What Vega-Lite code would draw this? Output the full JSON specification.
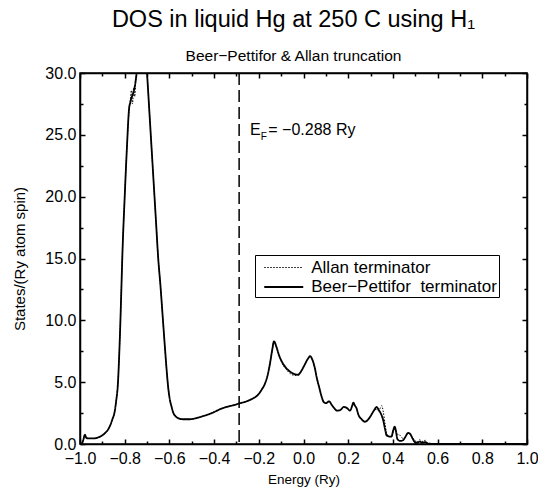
{
  "$schema": "https://vega.github.io/schema/vega-lite/v6.json",
  "width": 447,
  "height": 371,
  "autosize": "none",
  "padding": {"left": 80, "top": 73, "right": 11, "bottom": 43},
  "background": "white",
  "title": {
    "text": "DOS in liquid Hg at 250 C using H₁",
    "subtitle": "Beer−Pettifor & Allan truncation",
    "font": "Liberation Sans",
    "subtitleFont": "Liberation Sans",
    "fontSize": 23.5,
    "subtitleFontSize": 15.5,
    "fontWeight": "normal",
    "color": "black",
    "subtitleColor": "black",
    "anchor": "middle",
    "dx": -10,
    "offset": 1,
    "subtitlePadding": 17
  },
  "config": {
    "view": {"stroke": "black", "strokeWidth": 1.5},
    "axis": {
      "grid": false,
      "domainColor": "black",
      "domainWidth": 1.5,
      "tickColor": "black",
      "tickWidth": 1.5,
      "labelFont": "Liberation Sans",
      "labelFontSize": 16,
      "labelColor": "black",
      "labelOverlap": false,
      "labelFlush": false,
      "titleFont": "Liberation Sans",
      "titleFontSize": 14,
      "titleFontWeight": "normal",
      "titleColor": "black"
    },
    "legend": {
      "labelFont": "Liberation Sans",
      "labelFontSize": 17,
      "labelColor": "black",
      "labelLimit": 0
    }
  },
  "data": {
    "values": [
      {"e": -1.0, "a": 0, "b": 0},
      {"e": -0.99, "a": 0.1, "b": 0.1},
      {"e": -0.985, "a": 0.35, "b": 0.35},
      {"e": -0.978, "a": 0.75, "b": 0.75},
      {"e": -0.972, "a": 0.5, "b": 0.5},
      {"e": -0.96, "a": 0.45, "b": 0.45},
      {"e": -0.94, "a": 0.45, "b": 0.45},
      {"e": -0.925, "a": 0.5, "b": 0.5},
      {"e": -0.91, "a": 0.6, "b": 0.6},
      {"e": -0.89, "a": 0.85, "b": 0.85},
      {"e": -0.875, "a": 1.15, "b": 1.15},
      {"e": -0.865, "a": 1.5, "b": 1.5},
      {"e": -0.855, "a": 2.0, "b": 2.0},
      {"e": -0.845, "a": 2.6, "b": 2.6},
      {"e": -0.838, "a": 3.5, "b": 3.5},
      {"e": -0.83, "a": 5.0, "b": 5.0},
      {"e": -0.825, "a": 7.0, "b": 7.0},
      {"e": -0.82, "a": 9.5, "b": 9.5},
      {"e": -0.815, "a": 12.5, "b": 12.5},
      {"e": -0.81, "a": 15.5, "b": 15.5},
      {"e": -0.8, "a": 20.0, "b": 20.0},
      {"e": -0.79, "a": 24.0, "b": 24.0},
      {"e": -0.78, "a": 27.0, "b": 27.2},
      {"e": -0.775, "a": 27.8, "b": 27.6},
      {"e": -0.77, "a": 28.6, "b": 28.0},
      {"e": -0.765, "a": 27.5, "b": 28.2},
      {"e": -0.76, "a": 28.8, "b": 28.5},
      {"e": -0.755, "a": 28.1, "b": 28.9},
      {"e": -0.75, "a": 29.5, "b": 29.5},
      {"e": -0.745, "a": 30.3, "b": 30.3},
      {"e": -0.735, "a": 33, "b": 33},
      {"e": -0.72, "a": 34, "b": 34},
      {"e": -0.705, "a": 31.5, "b": 31.5},
      {"e": -0.7, "a": 30, "b": 30},
      {"e": -0.69, "a": 27, "b": 27},
      {"e": -0.68, "a": 24, "b": 24},
      {"e": -0.67, "a": 21, "b": 21},
      {"e": -0.66, "a": 18, "b": 18},
      {"e": -0.65, "a": 15, "b": 15},
      {"e": -0.64, "a": 12.8, "b": 12.8},
      {"e": -0.63, "a": 10.3, "b": 10.3},
      {"e": -0.62, "a": 7.8, "b": 7.8},
      {"e": -0.612, "a": 5.9, "b": 5.9},
      {"e": -0.605, "a": 4.5, "b": 4.5},
      {"e": -0.597, "a": 3.5, "b": 3.5},
      {"e": -0.59, "a": 3.0, "b": 3.0},
      {"e": -0.583, "a": 2.55, "b": 2.55},
      {"e": -0.57, "a": 2.2, "b": 2.2},
      {"e": -0.555, "a": 2.05, "b": 2.05},
      {"e": -0.538, "a": 2.0, "b": 2.0},
      {"e": -0.51, "a": 2.0, "b": 2.0},
      {"e": -0.478, "a": 2.1, "b": 2.1},
      {"e": -0.45, "a": 2.25, "b": 2.25},
      {"e": -0.425, "a": 2.4, "b": 2.4},
      {"e": -0.404, "a": 2.55, "b": 2.55},
      {"e": -0.375, "a": 2.8, "b": 2.8},
      {"e": -0.344, "a": 3.0, "b": 3.0},
      {"e": -0.31, "a": 3.15, "b": 3.15},
      {"e": -0.284, "a": 3.3, "b": 3.3},
      {"e": -0.255, "a": 3.45, "b": 3.45},
      {"e": -0.225, "a": 3.7, "b": 3.7},
      {"e": -0.205, "a": 3.95, "b": 3.95},
      {"e": -0.187, "a": 4.4, "b": 4.4},
      {"e": -0.172, "a": 4.9, "b": 4.9},
      {"e": -0.16, "a": 5.6, "b": 5.6},
      {"e": -0.15, "a": 6.5, "b": 6.5},
      {"e": -0.14, "a": 7.6, "b": 7.6},
      {"e": -0.132, "a": 8.3, "b": 8.3},
      {"e": -0.122, "a": 7.9, "b": 7.9},
      {"e": -0.11, "a": 7.2, "b": 7.2},
      {"e": -0.095, "a": 6.5, "b": 6.6},
      {"e": -0.08, "a": 6.1, "b": 6.2},
      {"e": -0.06, "a": 5.7, "b": 5.85},
      {"e": -0.04, "a": 5.55, "b": 5.65},
      {"e": -0.025, "a": 5.55, "b": 5.6},
      {"e": -0.01, "a": 5.9, "b": 5.9},
      {"e": 0.005, "a": 6.4, "b": 6.4},
      {"e": 0.02, "a": 6.9, "b": 6.9},
      {"e": 0.03, "a": 7.1, "b": 7.1},
      {"e": 0.04, "a": 6.8, "b": 6.8},
      {"e": 0.05, "a": 6.2, "b": 6.2},
      {"e": 0.06, "a": 5.3, "b": 5.3},
      {"e": 0.07, "a": 4.6, "b": 4.6},
      {"e": 0.08, "a": 3.9, "b": 3.9},
      {"e": 0.09, "a": 3.4, "b": 3.4},
      {"e": 0.1, "a": 3.3, "b": 3.3},
      {"e": 0.115, "a": 3.45, "b": 3.45},
      {"e": 0.125, "a": 3.2, "b": 3.2},
      {"e": 0.135, "a": 2.95, "b": 2.95},
      {"e": 0.15, "a": 2.7, "b": 2.7},
      {"e": 0.165, "a": 2.75, "b": 2.75},
      {"e": 0.18, "a": 3.0, "b": 3.0},
      {"e": 0.195, "a": 2.9, "b": 2.9},
      {"e": 0.208, "a": 2.7, "b": 2.7},
      {"e": 0.218, "a": 3.1, "b": 3.1},
      {"e": 0.223, "a": 3.35, "b": 3.35},
      {"e": 0.23, "a": 3.1, "b": 3.1},
      {"e": 0.237, "a": 2.9, "b": 2.9},
      {"e": 0.245, "a": 2.4, "b": 2.4},
      {"e": 0.26, "a": 2.0, "b": 2.0},
      {"e": 0.275, "a": 1.8, "b": 1.8},
      {"e": 0.29, "a": 2.0, "b": 2.0},
      {"e": 0.305, "a": 2.4, "b": 2.4},
      {"e": 0.318, "a": 2.75, "b": 2.8},
      {"e": 0.327, "a": 2.8, "b": 3.0},
      {"e": 0.335, "a": 2.7, "b": 2.8},
      {"e": 0.342, "a": 2.85, "b": 2.6},
      {"e": 0.35, "a": 3.1, "b": 2.3},
      {"e": 0.357, "a": 2.6, "b": 1.9},
      {"e": 0.365, "a": 1.6, "b": 1.2},
      {"e": 0.372, "a": 0.9, "b": 0.7},
      {"e": 0.385, "a": 0.6, "b": 0.6},
      {"e": 0.394, "a": 0.6, "b": 0.6},
      {"e": 0.4, "a": 0.9, "b": 1.0},
      {"e": 0.408, "a": 1.3, "b": 1.4},
      {"e": 0.414, "a": 1.1, "b": 1.0},
      {"e": 0.42, "a": 0.8, "b": 0.4},
      {"e": 0.432, "a": 0.7, "b": 0.25},
      {"e": 0.445, "a": 0.45, "b": 0.3},
      {"e": 0.455, "a": 0.55, "b": 0.55},
      {"e": 0.468, "a": 0.85, "b": 0.9},
      {"e": 0.478, "a": 0.75, "b": 0.8},
      {"e": 0.488, "a": 0.5, "b": 0.45},
      {"e": 0.498, "a": 0.3, "b": 0.15},
      {"e": 0.51, "a": 0.2, "b": 0.1},
      {"e": 0.52, "a": 0.35, "b": 0.2},
      {"e": 0.53, "a": 0.2, "b": 0.1},
      {"e": 0.545, "a": 0.3, "b": 0.15},
      {"e": 0.555, "a": 0.1, "b": 0.03},
      {"e": 0.57, "a": 0.05, "b": 0.0},
      {"e": 0.6, "a": 0.0, "b": 0.0},
      {"e": 1.0, "a": 0, "b": 0}
    ]
  },
  "resolve": {"axis": {"x": "independent", "y": "independent"}},
  "layer": [
    {
      "transform": [{"fold": ["a", "b"], "as": ["k", "v"]}],
      "mark": {"type": "line", "clip": true, "color": "black", "interpolate": "monotone"},
      "encoding": {
        "x": {
          "field": "e", "type": "quantitative",
          "scale": {"domain": [-1, 1], "nice": false, "zero": false},
          "axis": {
            "orient": "bottom",
            "title": "Energy (Ry)",
            "titleFontSize": 13.5,
            "values": [-1, -0.9, -0.8, -0.7, -0.6, -0.5, -0.4, -0.3, -0.2, -0.1, 0, 0.1, 0.2, 0.3, 0.4, 0.5, 0.6, 0.7, 0.8, 0.9, 1],
            "format": ".1f",
            "labelExpr": "abs(round(datum.value*10)) % 2 == 0 ? datum.label : ''",
            "tickSize": {"condition": {"test": "abs(round(datum.value*10)) % 2 == 0", "value": -5}, "value": -3},
            "labelPadding": 11,
            "titlePadding": 4
          }
        },
        "y": {
          "field": "v", "type": "quantitative",
          "scale": {"domain": [0, 30], "nice": false},
          "axis": {
            "orient": "left",
            "title": "States/(Ry atom spin)",
            "titleFontSize": 15,
            "values": [0, 2.5, 5, 7.5, 10, 12.5, 15, 17.5, 20, 22.5, 25, 27.5, 30],
            "format": ".1f",
            "labelExpr": "round(datum.value*2) % 2 == 0 ? datum.label : ''",
            "tickSize": {"condition": {"test": "round(datum.value*2) % 2 == 0", "value": -5}, "value": -3},
            "labelPadding": 9,
            "titlePadding": 17
          }
        },
        "strokeDash": {
          "field": "k", "type": "nominal",
          "scale": {"domain": ["a", "b"], "range": [[1.5, 1.5], [1, 0]]},
          "legend": {
            "orient": "none", "legendX": 175, "legendY": 182,
            "title": null, "strokeColor": "black", "fillColor": "white",
            "padding": 2, "symbolType": "M-2,0H2", "symbolSize": 380,
            "symbolOffset": 15.75, "symbolStrokeColor": "black", "symbolFillColor": "transparent",
            "labelOffset": 16.5, "rowPadding": 0,
            "labelExpr": "datum.label == 'a' ? 'Allan terminator' : 'Beer−Pettifor\u00a0 terminator'"
          }
        },
        "strokeWidth": {
          "field": "k", "type": "nominal",
          "scale": {"domain": ["a", "b"], "range": [1, 1.8]},
          "legend": {
            "orient": "none", "legendX": 175, "legendY": 182,
            "title": null, "strokeColor": "black", "fillColor": "white",
            "padding": 2, "symbolType": "M-2,0H2", "symbolSize": 380,
            "symbolOffset": 15.75, "symbolStrokeColor": "black", "symbolFillColor": "transparent",
            "labelOffset": 16.5, "rowPadding": 0,
            "labelExpr": "datum.label == 'a' ? 'Allan terminator' : 'Beer−Pettifor\u00a0 terminator'"
          }
        }
      }
    },
    {
      "data": {"values": [{"ef": -0.288}]},
      "mark": {"type": "rule", "color": "black", "strokeDash": [12, 5], "strokeWidth": 1.5},
      "encoding": {
        "x": {
          "field": "ef", "type": "quantitative",
          "axis": {
            "orient": "top", "title": null, "labels": false,
            "values": [-1, -0.9, -0.8, -0.7, -0.6, -0.5, -0.4, -0.3, -0.2, -0.1, 0, 0.1, 0.2, 0.3, 0.4, 0.5, 0.6, 0.7, 0.8, 0.9, 1],
            "tickSize": {"condition": {"test": "abs(round(datum.value*10)) % 2 == 0", "value": -5}, "value": -3}
          }
        }
      }
    },
    {
      "data": {"values": [{"t": "E", "px": -0.239, "py": 25}]},
      "mark": {"type": "text", "align": "left", "baseline": "alphabetic", "font": "Liberation Sans", "fontSize": 16, "color": "black"},
      "encoding": {
        "text": {"field": "t"},
        "x": {"field": "px", "type": "quantitative", "axis": null},
        "y": {
          "field": "py", "type": "quantitative",
          "axis": {
            "orient": "right", "title": null, "labels": false,
            "values": [0, 2.5, 5, 7.5, 10, 12.5, 15, 17.5, 20, 22.5, 25, 27.5, 30],
            "tickSize": {"condition": {"test": "round(datum.value*2) % 2 == 0", "value": -5}, "value": -3}
          }
        }
      }
    },
    {
      "data": {"values": [{"t": "F", "px": -0.1915, "py": 24.55}]},
      "mark": {"type": "text", "align": "left", "baseline": "alphabetic", "font": "Liberation Sans", "fontSize": 10, "color": "black"},
      "encoding": {
        "text": {"field": "t"},
        "x": {"field": "px", "type": "quantitative", "axis": null},
        "y": {"field": "py", "type": "quantitative", "axis": null}
      }
    },
    {
      "data": {"values": [{"t": "= −0.288 Ry", "px": -0.1575, "py": 25}]},
      "mark": {"type": "text", "align": "left", "baseline": "alphabetic", "font": "Liberation Sans", "fontSize": 16, "color": "black"},
      "encoding": {
        "text": {"field": "t"},
        "x": {"field": "px", "type": "quantitative", "axis": null},
        "y": {"field": "py", "type": "quantitative", "axis": null}
      }
    }
  ]
}
